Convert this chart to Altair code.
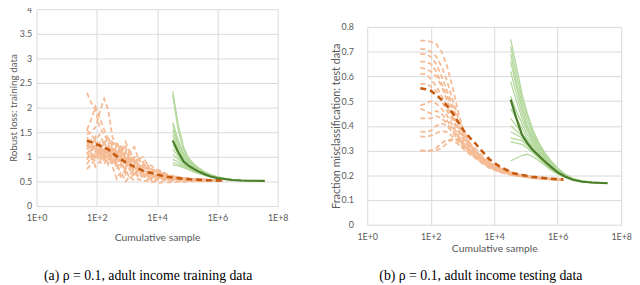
import altair as alt
import pandas as pd

X_TICKS = [1, 100, 10000, 1000000, 100000000]

# ---------------- panel (a): robust loss, training data ----------------
ORANGE_X_A = [47, 65, 90, 125, 175, 240, 330, 460, 640, 900, 1250, 1750, 2400,
              3400, 4700, 6500, 9000, 12500, 17500, 24000, 34000, 60000,
              150000, 500000, 1500000]
ORANGE_MEAN_A = [1.33, 1.30, 1.26, 1.23, 1.19, 1.15, 1.08, 1.01, 0.95, 0.89, 0.84,
                 0.80, 0.76, 0.72, 0.69, 0.67, 0.645, 0.625, 0.605, 0.59, 0.58,
                 0.56, 0.54, 0.525, 0.52]
ORANGE_RUNS_A = [
    [2.30, 2.10, 1.95, 1.60, 1.45, 1.30, 1.25, 1.10, 1.15, 0.95, 0.98, 0.85, 0.88,
     0.74, 0.78, 0.68, 0.70, 0.62, 0.64, 0.60, 0.59, 0.57, 0.545, 0.53, 0.52],
    [1.45, 1.50, 1.60, 1.90, 2.18, 1.95, 1.40, 1.20, 1.05, 1.10, 0.90, 0.95, 0.80,
     0.82, 0.72, 0.70, 0.66, 0.64, 0.61, 0.60, 0.58, 0.565, 0.545, 0.53, 0.52],
    [1.55, 1.75, 2.02, 1.80, 1.55, 1.35, 1.30, 1.05, 1.00, 0.92, 0.88, 0.78, 0.82,
     0.70, 0.72, 0.66, 0.65, 0.60, 0.62, 0.58, 0.575, 0.555, 0.54, 0.525, 0.52],
    [0.75, 0.85, 0.95, 1.00, 1.10, 1.05, 0.95, 0.80, 0.85, 0.70, 0.65, 0.72, 0.62,
     0.60, 0.64, 0.58, 0.56, 0.57, 0.55, 0.54, 0.545, 0.535, 0.53, 0.52, 0.52],
    [1.40, 1.25, 1.10, 1.20, 1.00, 1.15, 1.25, 1.30, 1.10, 1.20, 0.95, 1.00, 0.85,
     0.90, 0.75, 0.78, 0.70, 0.68, 0.65, 0.62, 0.60, 0.57, 0.55, 0.53, 0.52],
    [1.10, 0.95, 1.05, 0.90, 1.20, 1.00, 1.10, 0.90, 0.60, 0.75, 0.55, 0.68, 0.58,
     0.62, 0.55, 0.57, 0.52, 0.55, 0.53, 0.545, 0.535, 0.53, 0.525, 0.52, 0.52],
    [1.20, 1.35, 1.15, 1.30, 1.05, 1.20, 0.90, 1.25, 1.00, 1.30, 1.10, 1.20, 0.95,
     1.00, 0.85, 0.82, 0.75, 0.72, 0.66, 0.64, 0.61, 0.58, 0.55, 0.53, 0.52],
    [0.95, 1.05, 0.80, 0.90, 0.85, 1.05, 0.80, 0.55, 0.70, 0.50, 0.60, 0.52, 0.55,
     0.50, 0.52, 0.48, 0.50, 0.47, 0.49, 0.48, 0.49, 0.49, 0.50, 0.51, 0.515],
    [1.55, 1.45, 1.35, 1.45, 1.25, 1.40, 1.15, 1.05, 1.25, 0.95, 1.05, 0.90, 0.95,
     0.85, 0.80, 0.75, 0.72, 0.70, 0.64, 0.62, 0.60, 0.58, 0.55, 0.535, 0.52],
    [1.30, 1.15, 1.25, 1.05, 1.15, 0.95, 1.05, 1.00, 0.80, 0.88, 0.72, 0.80, 0.68,
     0.72, 0.62, 0.65, 0.58, 0.60, 0.56, 0.57, 0.55, 0.55, 0.535, 0.525, 0.52],
    [1.15, 1.25, 1.35, 1.10, 1.30, 1.10, 1.20, 0.95, 1.05, 0.80, 0.95, 0.70, 0.78,
     0.65, 0.70, 0.60, 0.63, 0.57, 0.60, 0.55, 0.56, 0.54, 0.53, 0.52, 0.52],
    [0.85, 1.00, 1.10, 0.95, 1.00, 0.85, 0.95, 1.10, 0.95, 1.05, 0.85, 0.75, 0.80,
     0.68, 0.60, 0.62, 0.57, 0.58, 0.55, 0.52, 0.53, 0.52, 0.52, 0.515, 0.515],
    [1.05, 1.20, 0.95, 1.15, 0.90, 1.25, 1.00, 1.15, 0.85, 1.10, 0.80, 0.92, 0.72,
     0.80, 0.66, 0.70, 0.60, 0.63, 0.58, 0.56, 0.57, 0.55, 0.535, 0.525, 0.52],
    [1.25, 1.05, 1.30, 1.00, 1.10, 0.85, 1.15, 0.75, 0.95, 0.65, 0.80, 0.60, 0.72,
     0.56, 0.64, 0.52, 0.58, 0.51, 0.54, 0.50, 0.52, 0.51, 0.515, 0.515, 0.515],
    [0.95, 1.15, 1.00, 1.25, 0.95, 1.10, 0.85, 1.00, 1.20, 0.90, 1.15, 0.85, 1.00,
     0.78, 0.85, 0.70, 0.75, 0.64, 0.68, 0.60, 0.62, 0.58, 0.55, 0.53, 0.52],
    [1.35, 1.20, 1.40, 1.15, 1.30, 1.05, 1.15, 0.85, 1.00, 0.75, 0.90, 0.65, 0.75,
     0.60, 0.66, 0.56, 0.60, 0.54, 0.57, 0.53, 0.55, 0.54, 0.53, 0.52, 0.52],
]
GREEN_X = [33000, 50000, 75000, 110000, 170000, 260000, 400000, 600000,
           1000000, 1700000, 3000000, 6000000, 12000000, 37000000]
GREEN_MEAN_A = [1.33, 1.10, 0.91, 0.82, 0.75, 0.69, 0.64, 0.60, 0.57, 0.55,
                0.53, 0.52, 0.515, 0.513]
GREEN_RUNS_A = [
    [2.33, 1.65, 1.20, 0.98, 0.85, 0.76, 0.69, 0.64, 0.60, 0.565, 0.54, 0.525, 0.517, 0.513],
    [2.25, 1.55, 1.15, 0.95, 0.83, 0.75, 0.68, 0.63, 0.595, 0.56, 0.538, 0.524, 0.517, 0.513],
    [1.70, 1.35, 1.08, 0.92, 0.82, 0.74, 0.68, 0.63, 0.59, 0.56, 0.537, 0.523, 0.516, 0.513],
    [1.65, 1.28, 1.05, 0.90, 0.80, 0.73, 0.67, 0.625, 0.59, 0.558, 0.536, 0.523, 0.516, 0.513],
    [1.55, 1.22, 1.00, 0.87, 0.78, 0.72, 0.66, 0.62, 0.585, 0.556, 0.535, 0.522, 0.516, 0.513],
    [1.45, 1.15, 0.97, 0.85, 0.77, 0.71, 0.655, 0.615, 0.58, 0.555, 0.534, 0.522, 0.516, 0.513],
    [1.35, 1.10, 0.93, 0.83, 0.76, 0.70, 0.65, 0.61, 0.578, 0.553, 0.533, 0.521, 0.515, 0.513],
    [1.25, 1.05, 0.90, 0.81, 0.74, 0.69, 0.645, 0.605, 0.575, 0.552, 0.532, 0.521, 0.515, 0.513],
    [1.15, 1.00, 0.88, 0.80, 0.73, 0.68, 0.64, 0.60, 0.572, 0.55, 0.531, 0.52, 0.515, 0.513],
    [1.05, 0.95, 0.86, 0.78, 0.72, 0.675, 0.635, 0.598, 0.57, 0.548, 0.53, 0.52, 0.515, 0.513],
    [0.95, 0.90, 0.83, 0.77, 0.71, 0.67, 0.63, 0.595, 0.568, 0.547, 0.53, 0.52, 0.515, 0.513],
    [0.88, 0.85, 0.80, 0.75, 0.70, 0.66, 0.625, 0.59, 0.565, 0.545, 0.529, 0.519, 0.515, 0.513],
    [0.83, 0.82, 0.78, 0.74, 0.69, 0.655, 0.62, 0.588, 0.563, 0.544, 0.528, 0.519, 0.515, 0.513],
]

# ---------------- panel (b): misclassification, test data ----------------
ORANGE_X_B = [47, 70, 100, 150, 220, 330, 500, 750, 1100, 1700, 2500, 4000,
              7000, 15000, 40000, 150000, 600000, 1500000]
ORANGE_MEAN_B = [0.552, 0.548, 0.542, 0.525, 0.505, 0.48, 0.45, 0.413, 0.38,
                 0.352, 0.33, 0.30, 0.265, 0.235, 0.208, 0.194, 0.186, 0.183]
ORANGE_RUNS_B = [
    [0.745, 0.745, 0.74, 0.73, 0.70, 0.64, 0.55, 0.45, 0.38, 0.33, 0.30, 0.27, 0.25, 0.225, 0.205, 0.193, 0.186, 0.183],
    [0.71, 0.71, 0.70, 0.68, 0.64, 0.58, 0.50, 0.43, 0.37, 0.33, 0.31, 0.28, 0.255, 0.23, 0.21, 0.195, 0.187, 0.183],
    [0.69, 0.69, 0.68, 0.65, 0.60, 0.54, 0.48, 0.41, 0.36, 0.32, 0.30, 0.275, 0.25, 0.228, 0.208, 0.194, 0.186, 0.183],
    [0.66, 0.66, 0.65, 0.62, 0.57, 0.52, 0.46, 0.40, 0.355, 0.325, 0.30, 0.27, 0.248, 0.225, 0.206, 0.193, 0.186, 0.183],
    [0.635, 0.63, 0.62, 0.60, 0.56, 0.50, 0.44, 0.39, 0.35, 0.32, 0.295, 0.268, 0.245, 0.222, 0.205, 0.192, 0.185, 0.182],
    [0.61, 0.61, 0.59, 0.56, 0.52, 0.48, 0.43, 0.38, 0.345, 0.315, 0.29, 0.265, 0.242, 0.22, 0.204, 0.192, 0.185, 0.182],
    [0.57, 0.57, 0.56, 0.54, 0.50, 0.46, 0.42, 0.375, 0.34, 0.31, 0.288, 0.262, 0.24, 0.22, 0.203, 0.191, 0.185, 0.182],
    [0.483, 0.49, 0.50, 0.49, 0.47, 0.44, 0.40, 0.36, 0.33, 0.305, 0.285, 0.26, 0.238, 0.218, 0.203, 0.191, 0.185, 0.182],
    [0.47, 0.46, 0.45, 0.46, 0.45, 0.42, 0.39, 0.355, 0.325, 0.30, 0.28, 0.258, 0.236, 0.217, 0.202, 0.19, 0.184, 0.182],
    [0.43, 0.43, 0.43, 0.44, 0.43, 0.41, 0.38, 0.35, 0.32, 0.30, 0.278, 0.256, 0.235, 0.216, 0.202, 0.19, 0.184, 0.182],
    [0.377, 0.375, 0.38, 0.40, 0.41, 0.40, 0.37, 0.345, 0.318, 0.295, 0.275, 0.254, 0.234, 0.215, 0.201, 0.19, 0.184, 0.182],
    [0.357, 0.355, 0.36, 0.37, 0.38, 0.375, 0.355, 0.335, 0.31, 0.29, 0.272, 0.252, 0.232, 0.214, 0.20, 0.189, 0.184, 0.182],
    [0.30, 0.30, 0.30, 0.31, 0.33, 0.345, 0.34, 0.325, 0.305, 0.285, 0.27, 0.25, 0.23, 0.213, 0.20, 0.189, 0.184, 0.182],
    [0.30, 0.30, 0.30, 0.30, 0.31, 0.33, 0.35, 0.345, 0.32, 0.295, 0.275, 0.255, 0.235, 0.216, 0.201, 0.19, 0.184, 0.182],
]
GREEN_MEAN_B = [0.506, 0.43, 0.364, 0.33, 0.30, 0.278, 0.255, 0.235, 0.212,
                0.195, 0.182, 0.174, 0.171, 0.168]
GREEN_RUNS_B = [
    [0.75, 0.64, 0.53, 0.45, 0.38, 0.33, 0.29, 0.26, 0.23, 0.205, 0.188, 0.177, 0.172, 0.168],
    [0.72, 0.61, 0.51, 0.44, 0.37, 0.32, 0.285, 0.255, 0.227, 0.203, 0.187, 0.177, 0.172, 0.168],
    [0.69, 0.58, 0.49, 0.42, 0.36, 0.315, 0.28, 0.25, 0.224, 0.20, 0.186, 0.176, 0.171, 0.168],
    [0.66, 0.56, 0.47, 0.40, 0.35, 0.31, 0.275, 0.248, 0.222, 0.20, 0.185, 0.176, 0.171, 0.168],
    [0.62, 0.53, 0.45, 0.39, 0.34, 0.30, 0.27, 0.245, 0.22, 0.198, 0.185, 0.175, 0.171, 0.168],
    [0.58, 0.50, 0.43, 0.38, 0.335, 0.295, 0.265, 0.24, 0.218, 0.197, 0.184, 0.175, 0.171, 0.168],
    [0.52, 0.46, 0.41, 0.365, 0.325, 0.29, 0.262, 0.238, 0.215, 0.196, 0.183, 0.175, 0.17, 0.168],
    [0.47, 0.43, 0.39, 0.35, 0.315, 0.285, 0.258, 0.235, 0.213, 0.195, 0.183, 0.174, 0.17, 0.168],
    [0.43, 0.40, 0.37, 0.34, 0.31, 0.28, 0.255, 0.232, 0.212, 0.194, 0.182, 0.174, 0.17, 0.168],
    [0.40, 0.38, 0.36, 0.335, 0.305, 0.278, 0.253, 0.23, 0.21, 0.193, 0.182, 0.174, 0.17, 0.168],
    [0.375, 0.365, 0.35, 0.33, 0.30, 0.275, 0.25, 0.23, 0.209, 0.193, 0.181, 0.174, 0.17, 0.168],
    [0.35, 0.345, 0.34, 0.32, 0.295, 0.27, 0.248, 0.228, 0.208, 0.192, 0.181, 0.173, 0.17, 0.168],
    [0.335, 0.33, 0.325, 0.31, 0.29, 0.268, 0.246, 0.226, 0.207, 0.192, 0.181, 0.173, 0.17, 0.168],
    [0.258, 0.27, 0.28, 0.285, 0.275, 0.258, 0.24, 0.222, 0.205, 0.191, 0.18, 0.173, 0.17, 0.168],
]

LIGHT_ORANGE = "#F5BB94"
DARK_ORANGE = "#C55A11"
LIGHT_GREEN = "#B3D89C"
DARK_GREEN = "#4A7E2A"
GRID = "#D9D9D9"
TEXT = "#595959"


def build_frame(ox, omean, oruns, gx, gmean, gruns):
    rows = []
    for i, run in enumerate(oruns):
        for x, y in zip(ox, run):
            rows.append({"x": x, "y": y, "run": f"o{i}", "kind": "orun"})
    for i, run in enumerate(gruns):
        for x, y in zip(gx, run):
            rows.append({"x": x, "y": y, "run": f"g{i}", "kind": "grun"})
    for x, y in zip(ox, omean):
        rows.append({"x": x, "y": y, "run": "om", "kind": "omean"})
    for x, y in zip(gx, gmean):
        rows.append({"x": x, "y": y, "run": "gm", "kind": "gmean"})
    return pd.DataFrame(rows)


def panel(df, ymax, yticks, ytitle, ytitle_size, ytitle_pad, ylabel_pad, caption,
          w, h, xtitle_pad, cap_offset):
    xenc = alt.X("x:Q", scale=alt.Scale(type="log", domain=[1, 1e8]),
                 axis=alt.Axis(values=X_TICKS, labelFlush=False,
                               labelExpr="'1E+' + round(log(datum.value) / LN10)",
                               title="Cumulative sample", titlePadding=xtitle_pad))
    yenc = alt.Y("y:Q", scale=alt.Scale(domain=[0, ymax], nice=False),
                 axis=alt.Axis(values=yticks, format="~g", title=ytitle,
                               labelFlush=False, titlePadding=ytitle_pad,
                               labelPadding=ylabel_pad, titleFontSize=ytitle_size))
    base = alt.Chart(df).encode(x=xenc, y=yenc, detail="run:N")
    lo = base.transform_filter("datum.kind == 'orun'").mark_line(
        color=LIGHT_ORANGE, strokeWidth=1.8, strokeDash=[5, 3])
    lg = base.transform_filter("datum.kind == 'grun'").mark_line(
        color=LIGHT_GREEN, strokeWidth=1.3)
    mo = base.transform_filter("datum.kind == 'omean'").mark_line(
        color=DARK_ORANGE, strokeWidth=2.6, strokeDash=[6, 4])
    mg = base.transform_filter("datum.kind == 'gmean'").mark_line(
        color=DARK_GREEN, strokeWidth=2.2)
    return alt.layer(lo, lg, mo, mg).properties(
        width=w, height=h,
        title=alt.Title(caption, orient="bottom", frame="bounds", anchor="middle",
                        font="Liberation Serif", fontSize=14, fontWeight="normal",
                        color="black", offset=cap_offset))


df_a = build_frame(ORANGE_X_A, ORANGE_MEAN_A, ORANGE_RUNS_A, GREEN_X, GREEN_MEAN_A, GREEN_RUNS_A)
df_b = build_frame(ORANGE_X_B, ORANGE_MEAN_B, ORANGE_RUNS_B, GREEN_X, GREEN_MEAN_B, GREEN_RUNS_B)

left = panel(df_a, 4, [0, 0.5, 1, 1.5, 2, 2.5, 3, 3.5, 4], "Robust loss: training data", 10,
             1, 5, "(a) \u03c1 = 0.1, adult income training data", 245, 200, 10, 27)
right_panel = panel(df_b, 0.8, [0, 0.1, 0.2, 0.3, 0.4, 0.5, 0.6, 0.7, 0.8],
                    "Fraction misclassification: test data", 11, 0, 14,
                    "(b) \u03c1 = 0.1, adult income testing data", 258, 201, 2, 16)

blank = alt.Chart(pd.DataFrame({"a": [0]})).mark_point(opacity=0).encode(
    x=alt.value(0), y=alt.value(0)).properties(width=258, height=14)
right = alt.vconcat(blank, right_panel, spacing=0)

chart = alt.hconcat(left, right, spacing=42).properties(
    padding={"left": 0, "top": -5, "right": 0, "bottom": 0}
).configure_view(stroke=None).configure_axis(
    grid=True, gridColor=GRID, gridWidth=1, domain=False, ticks=False,
    labelFont="Lato", labelFontSize=9, labelColor=TEXT, labelPadding=8,
    titleFont="Lato", titleFontSize=10.5, titleColor=TEXT, titleFontWeight="normal"
)

chart.save("out.html", embed_options={"renderer": "svg", "actions": False})
